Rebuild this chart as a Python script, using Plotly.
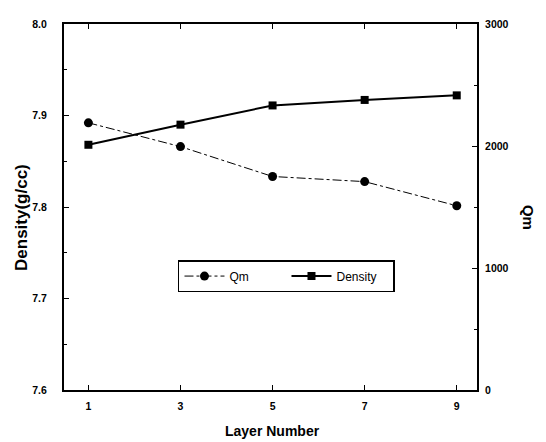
import plotly.graph_objects as go

layers = [1, 3, 5, 7, 9]
density = [7.868, 7.890, 7.911, 7.917, 7.922]
qm = [2190, 1995, 1750, 1708, 1510]

FONT = "Liberation Sans Narrow, Liberation Sans, Arial, sans-serif"
TICKFONT = dict(size=10.5, family=FONT, weight="bold")

fig = go.Figure()
fig.add_trace(go.Scatter(
    x=layers, y=qm, name="Qm", yaxis="y2", mode="lines+markers",
    line=dict(color="black", width=1, dash="dashdot"),
    marker=dict(symbol="circle", size=9, color="black"),
))
fig.add_trace(go.Scatter(
    x=layers, y=density, name="Density", yaxis="y", mode="lines+markers",
    line=dict(color="black", width=2),
    marker=dict(symbol="square", size=8, color="black"),
))

fig.update_layout(
    width=538, height=434,
    margin=dict(l=56, r=69, t=10, b=52),
    paper_bgcolor="white", plot_bgcolor="white",
    font=dict(family=FONT, color="black", size=11),
    showlegend=True,
    legend=dict(
        orientation="h", x=0.276, y=0.355, xanchor="left", yanchor="top",
        bordercolor="black", borderwidth=1.5, bgcolor="white",
        font=dict(size=12, family=FONT), itemwidth=40,
        entrywidth=52,
    ),
    xaxis=dict(
        range=[0.47, 9.44], tickvals=[1, 3, 5, 7, 9],
        showline=True, linecolor="black", linewidth=2,
        ticks="inside", ticklen=5, tickcolor="black", mirror="ticks",
        showgrid=False, zeroline=False, ticklabelstandoff=5,
        tickfont=TICKFONT,
    ),
    yaxis=dict(
        range=[7.6, 8.0], dtick=0.1, tickformat=".1f",
        showline=True, linecolor="black", linewidth=2,
        ticks="inside", ticklen=5, tickcolor="black",
        minor=dict(ticks="inside", dtick=0.05, ticklen=3, tickcolor="black"),
        showgrid=False, zeroline=False, ticklabelstandoff=13,
        tickfont=TICKFONT,
    ),
    yaxis2=dict(
        range=[0, 3000], dtick=1000, overlaying="y", side="right",
        showline=True, linecolor="black", linewidth=2,
        ticks="inside", ticklen=5, tickcolor="black",
        minor=dict(ticks="inside", dtick=500, ticklen=3, tickcolor="black"),
        showgrid=False, zeroline=False, ticklabelstandoff=4,
        tickfont=TICKFONT,
    ),
    annotations=[
        dict(text="<b>Qm</b>", x=1.0, xref="paper", xshift=51, y=0.473, yref="paper",
             xanchor="center", yanchor="middle",
             showarrow=False, textangle=90, font=dict(size=15, family=FONT)),
        dict(text="<b>Density(g/cc)</b>", x=0.0, xref="paper", xshift=-42, y=0.47, yref="paper",
             xanchor="center", yanchor="middle",
             showarrow=False, textangle=-90, font=dict(size=17, family=FONT)),
        dict(text="<b>Layer Number</b>", x=0.504, xref="paper", y=0.0, yref="paper", yshift=-41,
             xanchor="center", yanchor="middle",
             showarrow=False, font=dict(size=14, family=FONT)),
    ],
)

fig.write_html("out.html")
